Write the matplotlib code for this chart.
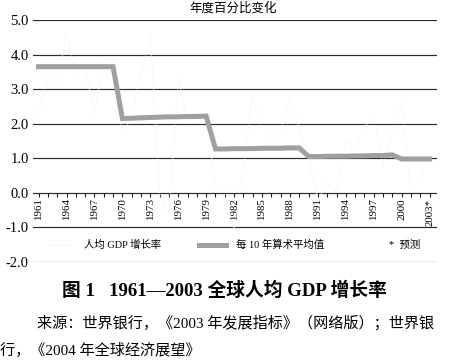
import matplotlib
matplotlib.use("Agg")
import matplotlib.pyplot as plt
from matplotlib.ticker import FixedLocator

plt.rcParams['font.family'] = ['Liberation Serif', 'Noto Sans CJK SC', 'DejaVu Sans']

# ---- data ----
years = list(range(1961, 2004))
annual_growth = [2.3, 3.4, 3.2, 4.6, 3.4, 3.6, 2.3, 3.8, 3.9, 1.7,
                 2.2, 3.5, 4.6, 0.0, -0.6, 3.3, 2.1, 2.3, 2.1, 0.2,
                 0.1, -1.1, 0.8, 2.8, 1.9, 1.6, 1.8, 2.7, 1.9, 1.0,
                 -0.2, 0.3, 0.0, 1.5, 1.3, 1.9, 2.2, 0.8, 1.8, 2.6,
                 0.0, 0.5, 1.0]
decade_avg = [3.65] * 9 + [2.15, 2.16, 2.17, 2.18, 2.19, 2.20, 2.20, 2.21, 2.21, 2.22] + \
             [1.27, 1.27, 1.28, 1.28, 1.28, 1.29, 1.29, 1.29, 1.30, 1.30] + \
             [1.05, 1.05, 1.06, 1.06, 1.06, 1.07, 1.07, 1.08, 1.08, 1.10] + \
             [0.98, 0.98, 0.98, 0.98]
label_years = list(range(1961, 2004, 3))
label_texts = [str(y) for y in label_years[:-1]] + ["2003*"]
y_ticks = [5.0, 4.0, 3.0, 2.0, 1.0, 0.0, -1.0, -2.0]
legend_labels = ["人均 GDP 增长率", "每 10 年算术平均值"]
axis_title = "年度百分比变化"
caption = "图 1   1961—2003 全球人均 GDP 增长率"
source1 = "来源：世界银行，《2003 年发展指标》（网络版）；世界银"
source2 = "行，《2004 年全球经济展望》"

fig = plt.figure(figsize=(4.5, 3.63), dpi=100)
ax = fig.add_axes([0.0733, 0.2782, 0.898, 0.6667])
ax.set_xlim(1960.4, 2003.8)
ax.set_ylim(-2, 5)

for s in ['top', 'right', 'left', 'bottom']:
    ax.spines[s].set_visible(False)
ax.spines['bottom'].set_position(('data', 0))

for y in y_ticks:
    ax.axhline(y, color='#2a2a2a', lw=0.85, zorder=1)

l1, = ax.plot(years, annual_growth, color='#f3f3f3', lw=0.7, ls=(0, (1, 1)), zorder=2)
l2, = ax.plot(years, decade_avg, color='#a0a0a0', lw=3.6, solid_joinstyle='miter', zorder=3)

ax.xaxis.set_major_locator(FixedLocator(label_years))
ax.xaxis.set_minor_locator(FixedLocator(years))
ax.set_xticklabels(label_texts, rotation=90, fontsize=7.8)
ax.tick_params(axis='x', which='both', direction='out', length=3, width=0.8, color='#222222', pad=1)

ax.set_yticks(y_ticks)
ax.set_yticklabels([f"{v:.1f}" for v in y_ticks], fontsize=10.5)
ax.tick_params(axis='y', length=0, pad=3)

leg = ax.legend([l1, l2], legend_labels, loc='center left', bbox_to_anchor=(0.01, 0.07),
                ncol=2, frameon=False, fontsize=7.5, handlelength=2.6,
                handletextpad=1.0, columnspacing=3.6)
ax.text(0.88, 0.07, "*  预测", transform=ax.transAxes, fontsize=7.5, va='center', ha='left')

fig.text(0.518, 0.978, axis_title, ha='center', va='center', fontsize=9)
fig.text(0.137, 0.2, caption, ha='left', va='center', fontsize=13.5, fontweight='bold')
fig.text(0.082, 0.11, source1, ha='left', va='center', fontsize=10.9)
fig.text(0.0, 0.035, source2, ha='left', va='center', fontsize=10.9)

fig.savefig("out.png", dpi=100)
